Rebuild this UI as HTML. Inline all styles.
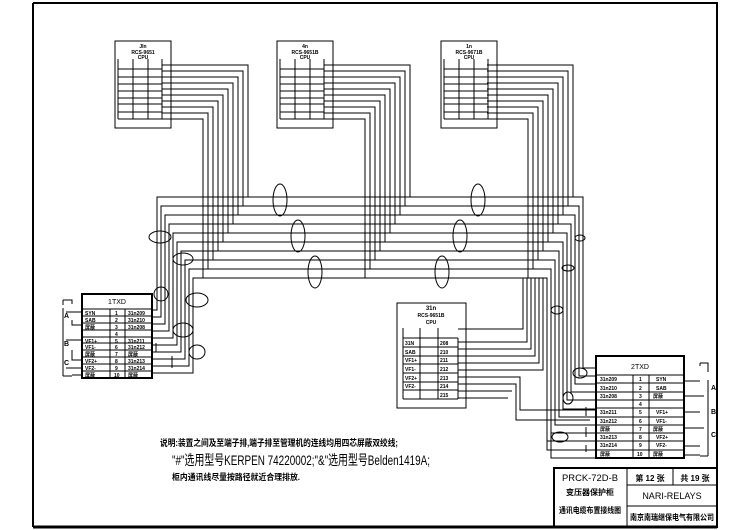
<!DOCTYPE html>
<html><head><meta charset="utf-8"><style>
html,body{margin:0;padding:0;background:#fff}
svg{display:block}
text{font-family:"Liberation Sans","Noto Sans CJK SC",sans-serif;fill:#000}
</style></head><body>
<svg width="749" height="530" viewBox="0 0 749 530" xmlns="http://www.w3.org/2000/svg">
<rect width="749" height="530" fill="#fff"/>
<g fill="none" stroke="#000" stroke-width="1">
<path d="M33 3 H717 V527" stroke-width="2"/>
<path d="M33 3 V527" stroke-width="2"/>
<path d="M33 527 H717" stroke-width="3"/>
<rect x="554" y="468" width="163" height="59" stroke-width="2"/>
<path d="M627 468 V527 M673 468 V485 M627 485 H717 M627 506 H717"/>

<g id="b1">
<rect x="115" y="41" width="56" height="87"/>
<path d="M118 59 V119 M133 59 V119 M148 59 V119 M162 59 V119 M118 69 H162 M118 77 H162 M118 84 H162 M118 91 H162 M118 98 H162 M118 104 H162 M118 112 H162 M118 119 H162"/>
</g>
<use href="#b1" x="162"/>
<use href="#b1" x="326"/>

<g id="w1">
<path d="M162 65 H248 V197"/><path d="M162 71 H243 V206"/><path d="M162 77 H238 V215"/><path d="M162 83 H233 V224"/><path d="M162 89 H228 V233"/>
<path d="M162 95 H223 V242"/><path d="M162 101 H218 V251"/><path d="M162 107 H213 V260"/><path d="M162 113 H208 V269"/><path d="M162 119 H203 V278"/>
</g>
<use href="#w1" x="162"/>
<use href="#w1" x="325"/>

<path d="M152 310 H157 V197 H583 V368 H596"/>
<path d="M152 317 H161 V206 H579 V376 H596"/>
<path d="M152 324 H165 V215 H575 V384 H596"/>
<path d="M152 331 H169 V224 H571 V392 H596"/>
<path d="M152 338 H173 V233 H567 V400 H596"/>
<path d="M152 345 H177 V242 H563 V409 H596"/>
<path d="M152 352 H181 V251 H559 V417 H596"/>
<path d="M152 359 H185 V260 H555 V425 H596"/>
<path d="M152 366 H189 V269 H551 V433 H596"/>
<path d="M152 373 H193 V278 H547 V441 H596"/>
<path d="M547 441 V450 H596 M551 433 V458 H596"/>

<rect x="397" y="303" width="69" height="105"/>
<path d="M403 338 V399 M420 338 V399 M438 338 V399 M458 338 V399 M403 347 H458 M403 356 H458 M403 364 H458 M403 373 H458 M403 382 H458 M403 390 H458 M403 399 H458 M403 338 H458 M420 328 V338 M438 328 V338 M403 328 V338"/>
<path d="M458 329 H523 V278 M458 342 H527 V278 M458 349 H531 V278 M458 356 H535 V278 M458 363 H539 V278 M458 370 H543 V278 M458 377 H520 V410 H596 M458 384 H516 V420 H590 M458 391 H512 M458 398 H508"/>

<rect x="82" y="294" width="70" height="84" stroke-width="2"/>
<path d="M82 309 H152 M82 316 H152 M82 323 H152 M82 330 H152 M82 337 H152 M82 343 H152 M82 350 H152 M82 357 H152 M82 364 H152 M82 371 H152 M110 309 V378 M125 309 V378"/>
<path d="M63 300 H72 V304 M63 300 V305 M66 312 H82 M72 320 V325 H82 M66 340 H82 M72 350 V360 H82 M66 368 H82 M72 375 H82 V372 M63 308 V376 M63 376 H72"/>

<rect x="596" y="356" width="88" height="102" stroke-width="2"/>
<path d="M596 375 H684 M596 383 H684 M596 392 H684 M596 400 H684 M596 408 H684 M596 417 H684 M596 425 H684 M596 433 H684 M596 441 H684 M596 450 H684 M633 375 V458 M649 375 V458"/>
<path d="M684 381 H700 M684 396 H704 M684 412 H700 M684 428 H704 M684 446 H700 M684 455 H700 M700 363 H708 V372 M700 363 V366 M708 380 V456 M700 456 H708"/>

<ellipse cx="280" cy="200" rx="7" ry="16"/><ellipse cx="298" cy="236" rx="7" ry="16"/><ellipse cx="315" cy="272" rx="7" ry="16"/>
<ellipse cx="478" cy="200" rx="7" ry="16"/><ellipse cx="460" cy="236" rx="7" ry="16"/><ellipse cx="442" cy="272" rx="7" ry="16"/>
<ellipse cx="160" cy="237" rx="11" ry="6"/><ellipse cx="183" cy="259" rx="10" ry="6"/><ellipse cx="161" cy="294" rx="7" ry="7"/>
<ellipse cx="197" cy="300" rx="11" ry="7"/><ellipse cx="183" cy="330" rx="10" ry="7"/><ellipse cx="197" cy="352" rx="8" ry="7"/>
<ellipse cx="580" cy="238" rx="5" ry="3"/><ellipse cx="568" cy="268" rx="6" ry="3"/><ellipse cx="557" cy="310" rx="6" ry="4"/>
<ellipse cx="580" cy="373" rx="7" ry="5"/><ellipse cx="568" cy="398" rx="5" ry="6"/><ellipse cx="560" cy="437" rx="8" ry="5"/>
<path d="M586 407 V416 M586 427 V437 M586 445 V452 M172 356 V368 M156 343 V352"/>
</g>

<g font-size="5" font-weight="bold">
<text x="143" y="48" text-anchor="middle">JIn</text><text x="143" y="54" text-anchor="middle">RCS-9651</text><text x="143" y="59" text-anchor="middle">CPU</text>
<text x="305" y="48" text-anchor="middle">4n</text><text x="305" y="54" text-anchor="middle">RCS-9651B</text><text x="305" y="59" text-anchor="middle">CPU</text>
<text x="469" y="48" text-anchor="middle">1n</text><text x="469" y="54" text-anchor="middle">RCS-9671B</text><text x="469" y="59" text-anchor="middle">CPU</text>
<text x="431" y="310" text-anchor="middle" font-size="6">31n</text><text x="431" y="317" text-anchor="middle">RCS-9651B</text><text x="431" y="324" text-anchor="middle">CPU</text>
<text x="405" y="345">31N</text><text x="405" y="354">SAB</text><text x="405" y="362">VF1+</text><text x="405" y="371">VF1-</text><text x="405" y="380">VF2+</text><text x="405" y="388">VF2-</text>
<text x="440" y="345">208</text><text x="440" y="354">210</text><text x="440" y="362">211</text><text x="440" y="371">212</text><text x="440" y="380">213</text><text x="440" y="388">214</text><text x="440" y="397">215</text>
<text x="85" y="315">SYN</text><text x="85" y="322">SAB</text><text x="85" y="329">屏蔽</text><text x="85" y="343">VF1+</text><text x="85" y="349">VF1-</text><text x="85" y="356">屏蔽</text><text x="85" y="363">VF2+</text><text x="85" y="370">VF2-</text><text x="85" y="377">屏蔽</text>
<text x="115" y="315">1</text><text x="115" y="322">2</text><text x="115" y="329">3</text><text x="115" y="336">4</text><text x="115" y="343">5</text><text x="115" y="349">6</text><text x="115" y="356">7</text><text x="115" y="363">8</text><text x="115" y="370">9</text><text x="114" y="377">10</text>
<text x="128" y="315">31n209</text><text x="128" y="322">31n210</text><text x="128" y="329">31n208</text><text x="128" y="343">31n211</text><text x="128" y="349">31n212</text><text x="128" y="356">屏蔽</text><text x="128" y="363">31n213</text><text x="128" y="370">31n214</text><text x="128" y="377">屏蔽</text>
<text x="600" y="381">31n209</text><text x="600" y="390">31n210</text><text x="600" y="398">31n208</text><text x="600" y="414">31n211</text><text x="600" y="423">31n212</text><text x="600" y="431">屏蔽</text><text x="600" y="439">31n213</text><text x="600" y="447">31n214</text><text x="600" y="456">屏蔽</text>
<text x="639" y="381">1</text><text x="639" y="390">2</text><text x="639" y="398">3</text><text x="639" y="406">4</text><text x="639" y="414">5</text><text x="639" y="423">6</text><text x="639" y="431">7</text><text x="639" y="439">8</text><text x="639" y="447">9</text><text x="637" y="456">10</text>
<text x="656" y="381">SYN</text><text x="656" y="390">SAB</text><text x="653" y="398">屏蔽</text><text x="656" y="414">VF1+</text><text x="656" y="423">VF1-</text><text x="653" y="431">屏蔽</text><text x="656" y="439">VF2+</text><text x="656" y="447">VF2-</text><text x="653" y="456">屏蔽</text>
</g>
<text x="117" y="304" font-size="7" text-anchor="middle">1TXD</text>
<text x="640" y="369" font-size="7" text-anchor="middle">2TXD</text>
<g font-size="7" font-weight="bold"><text x="64" y="318">A</text><text x="64" y="346">B</text><text x="64" y="365">C</text><text x="711" y="390">A</text><text x="711" y="414">B</text><text x="711" y="437">C</text></g>

<text x="160" y="446" font-size="9" font-weight="bold" textLength="238" lengthAdjust="spacingAndGlyphs">说明:装置之间及至端子排,端子排至管理机的连线均用四芯屏蔽双绞线;</text>
<text x="172" y="465" font-size="14" textLength="258" lengthAdjust="spacingAndGlyphs">"#"选用型号KERPEN 74220002;"&amp;"选用型号Belden1419A;</text>
<text x="172" y="480" font-size="8.5" font-weight="bold" textLength="128" lengthAdjust="spacingAndGlyphs">柜内通讯线尽量按路径就近合理排放.</text>

<g font-size="9">
<text x="590" y="481" text-anchor="middle" textLength="56" lengthAdjust="spacingAndGlyphs">PRCK-72D-B</text>
<text x="590" y="495" text-anchor="middle" font-weight="bold" font-size="8" textLength="48" lengthAdjust="spacingAndGlyphs">变压器保护柜</text>
<text x="590" y="513" text-anchor="middle" font-weight="bold" font-size="8" textLength="62" lengthAdjust="spacingAndGlyphs">通讯电缆布置接线图</text>
<text x="650" y="481" text-anchor="middle" font-weight="bold" font-size="8">第 12 张</text>
<text x="695" y="481" text-anchor="middle" font-weight="bold" font-size="8">共 19 张</text>
<text x="672" y="499" text-anchor="middle">NARI-RELAYS</text>
<text x="672" y="520" text-anchor="middle" font-weight="bold" font-size="8" textLength="84" lengthAdjust="spacingAndGlyphs">南京南瑞继保电气有限公司</text>
</g>
</svg>
</body></html>
